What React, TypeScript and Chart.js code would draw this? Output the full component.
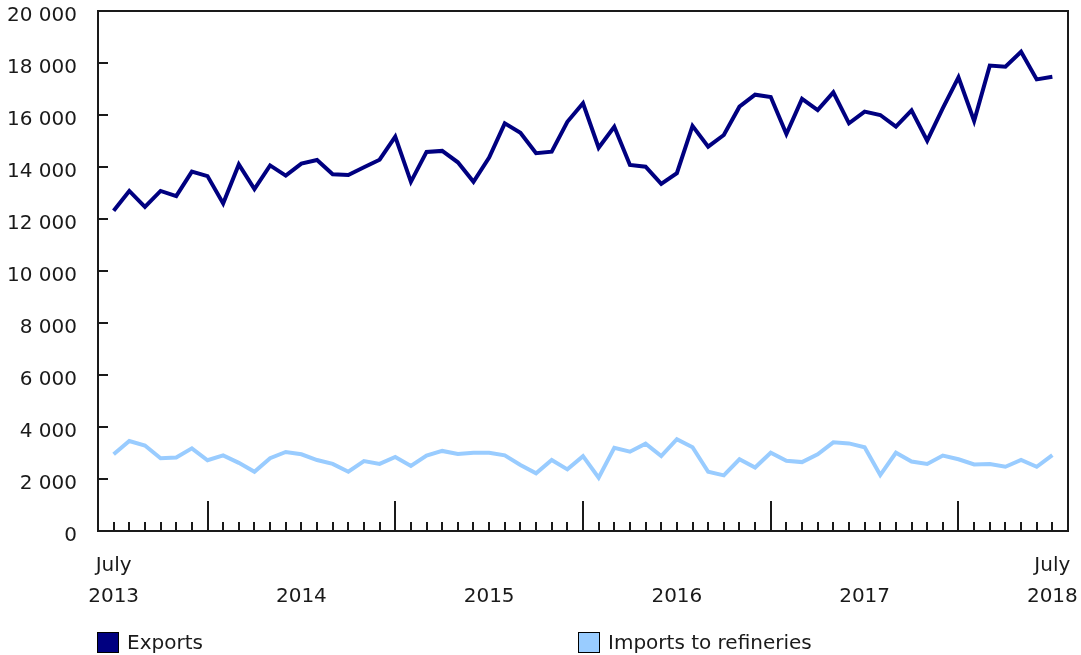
import React, { useEffect, useRef } from "react";
import { Chart, registerables } from "chart.js";

Chart.register(...registerables);

const months = [
  "2013-07", "2013-08", "2013-09", "2013-10", "2013-11", "2013-12",
  "2014-01", "2014-02", "2014-03", "2014-04", "2014-05", "2014-06",
  "2014-07", "2014-08", "2014-09", "2014-10", "2014-11", "2014-12",
  "2015-01", "2015-02", "2015-03", "2015-04", "2015-05", "2015-06",
  "2015-07", "2015-08", "2015-09", "2015-10", "2015-11", "2015-12",
  "2016-01", "2016-02", "2016-03", "2016-04", "2016-05", "2016-06",
  "2016-07", "2016-08", "2016-09", "2016-10", "2016-11", "2016-12",
  "2017-01", "2017-02", "2017-03", "2017-04", "2017-05", "2017-06",
  "2017-07", "2017-08", "2017-09", "2017-10", "2017-11", "2017-12",
  "2018-01", "2018-02", "2018-03", "2018-04", "2018-05", "2018-06",
  "2018-07",
];

const exportsValues = [
  12320, 13080, 12470, 13080, 12880, 13820, 13650, 12600, 14100, 13150,
  14060, 13670, 14130, 14270, 13720, 13690, 13990, 14280, 15170, 13430,
  14580, 14620, 14180, 13430, 14360, 15680, 15320, 14530, 14590, 15740,
  16450, 14740, 15550, 14080, 14010, 13350, 13760, 15580, 14780, 15230,
  16320, 16780, 16690, 15270, 16620, 16190, 16870, 15680, 16130, 16000,
  15550, 16180, 15010, 16260, 17450, 15770, 17900, 17860, 18430, 17370,
  17470,
];

const importsValues = [
  2950, 3460, 3290, 2800, 2830, 3180, 2720, 2910, 2620, 2280,
  2800, 3040, 2950, 2730, 2580, 2280, 2690, 2580, 2850, 2500,
  2900, 3080, 2960, 3010, 3010, 2910, 2540, 2220, 2730, 2370,
  2880, 2050, 3200, 3050, 3360, 2880, 3530, 3220, 2280, 2140,
  2760, 2440, 3010, 2700, 2650, 2950, 3410, 3370, 3220, 2150,
  3010, 2670, 2580, 2900, 2760, 2560, 2580, 2470, 2730, 2470,
  2920,
];

const seriesNames = ["Exports", "Imports to refineries"];
const seriesColors = ["#000080", "#99CCFF"];

// x tick labels at these month indices
const xTickIndices = [0, 12, 24, 36, 48, 60];
const xTickLabels = [
  ["July", "2013"],
  ["", "2014"],
  ["", "2015"],
  ["", "2016"],
  ["", "2017"],
  ["July", "2018"],
];

const FONT = "'DejaVu Sans', Verdana, sans-serif";
const FONT_SIZE = 20;
const TEXT = "#1a1a1a";

function fmt(v: number): string {
  return String(v).replace(/\B(?=(\d{3})+(?!\d))/g, " ");
}

const framePlugin = {
  id: "frameTicks",
  afterDraw(chart: any) {
    const { ctx, chartArea: a, scales } = chart;
    const x = scales.x;
    const y = scales.y;
    ctx.save();
    ctx.strokeStyle = TEXT;
    ctx.lineWidth = 2;
    ctx.beginPath();
    ctx.rect(a.left, a.top, a.right - a.left, a.bottom - a.top);
    ctx.stroke();
    ctx.beginPath();
    for (const t of y.ticks) {
      const py = Math.round(y.getPixelForValue(t.value));
      ctx.moveTo(a.left, py);
      ctx.lineTo(a.left + 10, py);
    }
    months.forEach((m, i) => {
      const px = Math.round(x.getPixelForValue(i));
      const len = m.endsWith("-01") ? 30 : 9;
      ctx.moveTo(px, a.bottom);
      ctx.lineTo(px, a.bottom - len);
    });
    ctx.stroke();
    ctx.restore();
  },
};

export default function App() {
  const ref = useRef<HTMLCanvasElement | null>(null);

  useEffect(() => {
    if (!ref.current) return;
    const chart = new Chart(ref.current, {
      type: "line",
      data: {
        datasets: [
          {
            label: seriesNames[0],
            data: exportsValues.map((v, i) => ({ x: i, y: v })),
            borderColor: seriesColors[0],
            backgroundColor: seriesColors[0],
            borderWidth: 4,
            pointRadius: 0,
            tension: 0,
          },
          {
            label: seriesNames[1],
            data: importsValues.map((v, i) => ({ x: i, y: v })),
            borderColor: seriesColors[1],
            backgroundColor: seriesColors[1],
            borderWidth: 4,
            pointRadius: 0,
            tension: 0,
          },
        ],
      },
      options: {
        animation: false,
        responsive: false,
        maintainAspectRatio: false,
        layout: { padding: { left: 0, right: 13, top: 11, bottom: 44 } },
        plugins: {
          legend: { display: false },
          tooltip: { enabled: false },
        },
        scales: {
          x: {
            type: "linear",
            min: -1,
            max: 61,
            grid: { display: false, drawTicks: false },
            border: { display: false },
            afterFit: (s: any) => {
              s.height = 80;
              s.paddingLeft = 0;
              s.paddingRight = 0;
            },
            afterBuildTicks: (s: any) => {
              s.ticks = xTickIndices.map((v) => ({ value: v }));
            },
            ticks: {
              autoSkip: false,
              maxRotation: 0,
              padding: 19,
              color: TEXT,
              font: { family: FONT, size: FONT_SIZE, lineHeight: 1.55 },
              callback: (v: any) => {
                const k = xTickIndices.indexOf(Number(v));
                return k >= 0 ? xTickLabels[k] : "";
              },
            },
          },
          y: {
            min: 0,
            max: 20000,
            grid: { display: false, drawTicks: false },
            border: { display: false },
            afterFit: (s: any) => {
              s.width = 98;
              s.paddingTop = 0;
              s.paddingBottom = 0;
            },
            ticks: {
              stepSize: 2000,
              padding: 21,
              color: TEXT,
              font: { family: FONT, size: FONT_SIZE, lineHeight: 0.45 },
              callback: (v: any) => ["", fmt(Number(v))],
            },
          },
        },
      },
      plugins: [framePlugin],
    });
    return () => chart.destroy();
  }, []);

  const legendItem = (i: number, left: number) => (
    <div
      key={i}
      style={{
        position: "absolute",
        left,
        top: 631,
        height: 22,
        display: "flex",
        alignItems: "center",
        fontFamily: FONT,
        fontSize: FONT_SIZE,
        color: TEXT,
        whiteSpace: "nowrap",
      }}
    >
      <span
        style={{
          display: "inline-block",
          width: 20,
          height: 19,
          background: seriesColors[i],
          border: "1px solid #000",
          marginRight: 8,
        }}
      />
      <span>{seriesNames[i]}</span>
    </div>
  );

  return (
    <div style={{ position: "absolute", left: 0, top: 0, width: 1081, height: 655, background: "#fff" }}>
      <canvas ref={ref} width={1081} height={655} style={{ position: "absolute", left: 0, top: 0 }} />
      {legendItem(0, 97)}
      {legendItem(1, 578)}
    </div>
  );
}
